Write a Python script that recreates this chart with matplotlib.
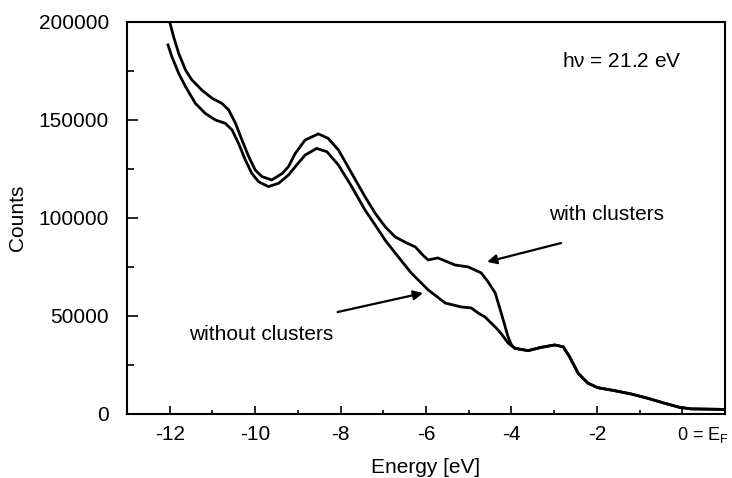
import matplotlib
matplotlib.use("Agg")
import matplotlib.pyplot as plt
from matplotlib.ticker import MultipleLocator
import matplotlib.transforms as mtransforms

plt.rcParams['font.family'] = ['Liberation Sans', 'DejaVu Sans']
plt.rcParams['mathtext.fontset'] = 'custom'
plt.rcParams['mathtext.rm'] = 'Liberation Sans'

# --- data ---
energy_with = [-12.0, -11.91, -11.79, -11.63, -11.48, -11.25, -11.01, -10.78, -10.62,
               -10.46, -10.31, -10.15, -10.0, -9.84, -9.61, -9.36, -9.22, -9.06, -8.83,
               -8.52, -8.29, -8.05, -7.74, -7.43, -7.19, -6.96, -6.72, -6.45, -6.25,
               -6.05, -5.95, -5.72, -5.32, -5.01, -4.71, -4.55, -4.38, -4.24, -4.16,
               -4.08, -4.0, -3.92, -3.61, -3.30, -2.99, -2.79, -2.64, -2.44, -2.21,
               -1.98, -1.59, -1.20, -0.81, -0.42, -0.07, 0.20, 1.0]
counts_with = [200000, 192500, 184000, 175500, 170400, 165300, 161100, 158500, 155100,
               148300, 139800, 131300, 124500, 121100, 119400, 122800, 126200, 133000, 139800,
               142900, 140600, 134700, 122800, 110900, 102400, 95600, 90300, 87200, 85200,
               80500, 78600, 79600, 76000, 75000, 72000, 67500, 61700, 51500, 45500,
               39300, 35200, 33500, 32300, 34000, 35200, 34300, 29200, 20800, 15700,
               13400, 11900, 10200, 8000, 5500, 3400, 2600, 2300]

energy_without = [-12.04, -11.95, -11.79, -11.63, -11.40, -11.17, -10.93, -10.70, -10.54,
                  -10.39, -10.23, -10.08, -9.92, -9.69, -9.45, -9.22, -9.06, -8.83, -8.56,
                  -8.32, -8.05, -7.74, -7.43, -7.19, -6.95, -6.72, -6.35, -5.95, -5.55,
                  -5.18, -4.94, -4.78, -4.62, -4.38, -4.24, -4.08, -3.92, -3.61, -3.30,
                  -2.99, -2.79, -2.64, -2.44, -2.21, -1.98, -1.59, -1.20, -0.81, -0.42,
                  -0.07, 0.20, 1.0]
counts_without = [188300, 182300, 173800, 167000, 158500, 153400, 150000, 148300, 144900,
                  138100, 129600, 122800, 118500, 116000, 117700, 121900, 126200, 132100, 135500,
                  133800, 127000, 116000, 104100, 96400, 88500, 82100, 72000, 63300, 56600,
                  54600, 54100, 51500, 49500, 44400, 41000, 36200, 33500, 32300, 34000,
                  35200, 34300, 29200, 20800, 15700, 13400, 11900, 10200, 8000, 5500,
                  3400, 2600, 2300]

xtick_values = [-12, -10, -8, -6, -4, -2, 0]
xtick_labels = ['-12', '-10', '-8', '-6', '-4', '-2', r'0 = $\mathregular{E_F}$']
ytick_values = [0, 50000, 100000, 150000, 200000]
ytick_labels = ['0', '50000', '100000', '150000', '200000']

fig = plt.figure(figsize=(7.32, 4.78), dpi=100)
ax = fig.add_axes([0.1735, 0.134, 0.817, 0.820])

ax.plot(energy_with, counts_with, color='black', lw=2.0, solid_joinstyle='round')
ax.plot(energy_without, counts_without, color='black', lw=2.0, solid_joinstyle='round')

ax.set_xlim(-13, 1)
ax.set_ylim(0, 200000)

ax.set_xticks(xtick_values)
ax.set_xticklabels(xtick_labels)
ax.set_yticks(ytick_values)
ax.set_yticklabels(ytick_labels)
ax.xaxis.set_minor_locator(MultipleLocator(1))
ax.yaxis.set_minor_locator(MultipleLocator(25000))

ax.tick_params(axis='both', which='both', direction='in', labelsize=15, width=1.2,
               top=False, right=False)
ax.tick_params(axis='x', which='major', length=6, pad=8)
ax.tick_params(axis='x', which='minor', length=3)
ax.tick_params(axis='y', which='major', length=8, pad=13)
ax.tick_params(axis='y', which='minor', length=5)

for s in ax.spines.values():
    s.set_linewidth(1.5)

# shift the last tick label so that "0" sits on the tick, and keep it inside the figure
last = ax.get_xticklabels()[-1]
last.set_horizontalalignment('left')
last.set_fontsize(13)
last.set_transform(last.get_transform() + mtransforms.ScaledTranslation(-5.5/100, 0, fig.dpi_scale_trans))

ax.set_xlabel('Energy [eV]', fontsize=15, labelpad=9)
ax.set_ylabel('Counts', fontsize=15, labelpad=8)

ax.text(-1.42, 179600, r'h$\mathregular{\nu}$ = 21.2 eV', fontsize=15, ha='center', va='center')
ax.text(-1.77, 102000, 'with clusters', fontsize=15, ha='center', va='center')
ax.text(-9.85, 40300, 'without clusters', fontsize=15, ha='center', va='center')

arrow = dict(arrowstyle='-|>', lw=1.6, color='black', mutation_scale=14, shrinkA=0, shrinkB=0)
ax.annotate('', xy=(-4.57, 77600), xytext=(-2.84, 87200), arrowprops=arrow)
ax.annotate('', xy=(-6.07, 61700), xytext=(-8.07, 52000), arrowprops=arrow)

fig.savefig('out.png', dpi=100)
